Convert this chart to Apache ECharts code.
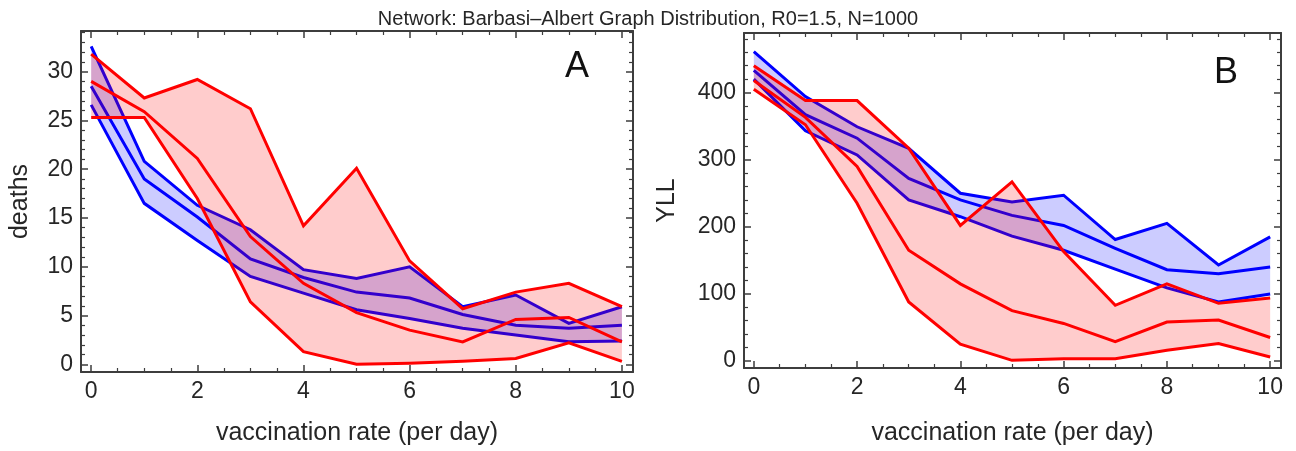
<!DOCTYPE html>
<html>
<head>
<meta charset="utf-8">
<script src="https://cdn.jsdelivr.net/npm/echarts@6/dist/echarts.min.js"></script>
<style>
html,body{margin:0;padding:0;background:#fff;}
#chart{width:1296px;height:451px;}
</style>
</head>
<body>
<div id="chart"></div>
<script>
// ---------- data ----------
const vaccRate = [0, 1, 2, 3, 4, 5, 6, 7, 8, 9, 10];

// Panel A: deaths
const deathsBlueUpper = [32.6, 20.8, 16.3, 13.8, 9.7, 8.8, 10.0, 5.9, 7.1, 4.2, 5.9];
const deathsBlueMid   = [28.5, 19.0, 15.1, 10.8, 8.9, 7.4, 6.8, 5.1, 4.0, 3.7, 4.0];
const deathsBlueLow   = [26.6, 16.5, 12.7, 9.0, 7.3, 5.6, 4.7, 3.7, 3.0, 2.3, 2.4];
const deathsRedUpper  = [31.8, 27.3, 29.2, 26.2, 14.2, 20.1, 10.6, 5.7, 7.4, 8.3, 5.9];
const deathsRedMid    = [29.0, 25.9, 21.1, 13.1, 8.3, 5.3, 3.5, 2.3, 4.6, 4.8, 2.3];
const deathsRedLow    = [25.3, 25.3, 17.0, 6.4, 1.3, 0.0, 0.1, 0.3, 0.6, 2.2, 0.3];

// Panel B: YLL
const yllBlueUpper = [461, 394, 349, 317, 250, 237, 247, 181, 205, 143, 185];
const yllBlueMid   = [433, 367, 332, 272, 240, 217, 202, 168, 136, 130, 140];
const yllBlueLow   = [420, 343, 307, 240, 215, 186, 165, 137, 109, 88, 100];
const yllRedUpper  = [440, 388, 388, 317, 202, 267, 163, 83, 115, 86, 94];
const yllRedMid    = [418, 363, 290, 165, 115, 75, 56, 29, 58, 61, 35];
const yllRedLow    = [405, 352, 235, 88, 25, 1, 3.5, 3.5, 16, 26, 6];

// ticks
const xMajorTicks = [0, 2, 4, 6, 8, 10];
const xMinorTicks = [0.5, 1, 1.5, 2.5, 3, 3.5, 4.5, 5, 5.5, 6.5, 7, 7.5, 8.5, 9, 9.5];
const deathsMajorTicks = [0, 5, 10, 15, 20, 25, 30];
const deathsMinorTicks = [1, 2, 3, 4, 6, 7, 8, 9, 11, 12, 13, 14, 16, 17, 18, 19, 21, 22, 23, 24, 26, 27, 28, 29, 31, 32, 33, 34];
const yllMajorTicks = [0, 100, 200, 300, 400];
const yllMinorTicks = [20, 40, 60, 80, 120, 140, 160, 180, 220, 240, 260, 280, 320, 340, 360, 380, 420, 440, 460, 480];

const titleText = 'Network: Barbasi\u2013Albert Graph Distribution, R0=1.5, N=1000';
const xName = 'vaccination rate (per day)';

// ---------- styling ----------
const FONT = 'Liberation Sans, Arial, sans-serif';
const FRAME = '#3d3d3d';
const TXT = '#262626';
const BLUE = '#0000ff';
const RED = '#ff0000';
const BLUE_FILL = 'rgba(0,0,255,0.2)';
const RED_FILL = 'rgba(255,0,0,0.2)';

const grids = [
  {left: 81, top: 31, width: 552, height: 341},
  {left: 744, top: 33, width: 537, height: 335}
];
const xRange = [[-0.192, 10.209], [-0.19, 10.21]];
const yRange = [[-0.79, 34.17], [-10.4, 488.7]];
const yMajors = [deathsMajorTicks, yllMajorTicks];
const yMinors = [deathsMinorTicks, yllMinorTicks];
const yNames = ['deaths', 'YLL'];
const yNameGaps = [48, 64];
const xNameGaps = [49, 53];

const lineMajor = {show: true, onZero: false, lineStyle: {color: FRAME, width: 2}};
const lineNone = {show: false, onZero: false};

const xAxes = [];
const yAxes = [];
for (let g = 0; g < 2; g++) {
  const base = {type: 'value', gridIndex: g, min: xRange[g][0], max: xRange[g][1], splitLine: {show: false}};
  xAxes.push(Object.assign({}, base, {
    position: 'bottom',
    axisLine: lineMajor,
    axisTick: {show: true, inside: true, length: 7, customValues: xMajorTicks, lineStyle: {color: FRAME, width: 1.5}},
    axisLabel: {show: true, customValues: xMajorTicks, margin: 8, fontSize: 23, fontFamily: FONT, color: TXT},
    name: xName, nameLocation: 'middle', nameGap: xNameGaps[g],
    nameTextStyle: {fontSize: 25, fontFamily: FONT, color: TXT}
  }));
  xAxes.push(Object.assign({}, base, {
    position: 'bottom',
    axisLine: lineNone,
    axisTick: {show: true, inside: true, length: 4, customValues: xMinorTicks, lineStyle: {color: FRAME, width: 1.2}},
    axisLabel: {show: false}
  }));
  xAxes.push(Object.assign({}, base, {
    position: 'top',
    axisLine: lineMajor,
    axisTick: {show: true, inside: true, length: 7, customValues: xMajorTicks, lineStyle: {color: FRAME, width: 1.5}},
    axisLabel: {show: false}
  }));
  xAxes.push(Object.assign({}, base, {
    position: 'top',
    axisLine: lineNone,
    axisTick: {show: true, inside: true, length: 4, customValues: xMinorTicks, lineStyle: {color: FRAME, width: 1.2}},
    axisLabel: {show: false}
  }));

  const ybase = {type: 'value', gridIndex: g, min: yRange[g][0], max: yRange[g][1], splitLine: {show: false}};
  yAxes.push(Object.assign({}, ybase, {
    position: 'left',
    axisLine: lineMajor,
    axisTick: {show: true, inside: true, length: 7, customValues: yMajors[g], lineStyle: {color: FRAME, width: 1.5}},
    axisLabel: {show: true, customValues: yMajors[g], margin: 8, fontSize: 23, fontFamily: FONT, color: TXT},
    name: yNames[g], nameLocation: 'middle', nameGap: yNameGaps[g], nameRotate: 90,
    nameTextStyle: {fontSize: 25, fontFamily: FONT, color: TXT}
  }));
  yAxes.push(Object.assign({}, ybase, {
    position: 'left',
    axisLine: lineNone,
    axisTick: {show: true, inside: true, length: 4, customValues: yMinors[g], lineStyle: {color: FRAME, width: 1.2}},
    axisLabel: {show: false}
  }));
  yAxes.push(Object.assign({}, ybase, {
    position: 'right',
    axisLine: lineMajor,
    axisTick: {show: true, inside: true, length: 7, customValues: yMajors[g], lineStyle: {color: FRAME, width: 1.5}},
    axisLabel: {show: false}
  }));
  yAxes.push(Object.assign({}, ybase, {
    position: 'right',
    axisLine: lineNone,
    axisTick: {show: true, inside: true, length: 4, customValues: yMinors[g], lineStyle: {color: FRAME, width: 1.2}},
    axisLabel: {show: false}
  }));
}

function pairs(ys) { return vaccRate.map((x, i) => [x, ys[i]]); }

// filled band between lower and upper curve, drawn through the axes' scales
function bandSeries(g, lo, hi, fill, z) {
  return {
    type: 'custom', xAxisIndex: g * 4, yAxisIndex: g * 4, z: z, silent: true,
    data: vaccRate.map((x, i) => [x, lo[i], hi[i]]),
    encode: {x: 0, y: [1, 2]},
    renderItem: function (params, api) {
      if (params.dataIndex !== 0) return null;
      const pts = [];
      for (let i = 0; i < vaccRate.length; i++) pts.push(api.coord([vaccRate[i], hi[i]]));
      for (let i = vaccRate.length - 1; i >= 0; i--) pts.push(api.coord([vaccRate[i], lo[i]]));
      return {type: 'polygon', shape: {points: pts}, style: {fill: fill, stroke: null}};
    }
  };
}
function lineSeries(g, ys, color, z) {
  return {type: 'line', xAxisIndex: g * 4, yAxisIndex: g * 4, data: pairs(ys), z: z,
    symbol: 'none', silent: true, lineStyle: {color: color, width: 3, join: 'miter'}, emphasis: {disabled: true}};
}

const panels = [
  {b: [deathsBlueUpper, deathsBlueMid, deathsBlueLow], r: [deathsRedUpper, deathsRedMid, deathsRedLow]},
  {b: [yllBlueUpper, yllBlueMid, yllBlueLow], r: [yllRedUpper, yllRedMid, yllRedLow]}
];
const series = [];
panels.forEach((p, g) => {
  series.push(bandSeries(g, p.b[2], p.b[0], BLUE_FILL, 1));
  p.b.forEach(ys => series.push(lineSeries(g, ys, BLUE, 2)));
  series.push(bandSeries(g, p.r[2], p.r[0], RED_FILL, 3));
  p.r.forEach(ys => series.push(lineSeries(g, ys, RED, 4)));
});

const chart = echarts.init(document.getElementById('chart'), null, {renderer: 'canvas'});
chart.setOption({
  animation: false,
  backgroundColor: '#ffffff',
  title: [
    {text: titleText, left: 'center', top: 4,
     textStyle: {fontSize: 20, fontWeight: 'normal', fontFamily: FONT, color: TXT}},
    {text: 'A', left: 560, top: 44,
     textStyle: {fontSize: 36, fontWeight: 'normal', fontFamily: FONT, color: '#111'}},
    {text: 'B', left: 1209, top: 50,
     textStyle: {fontSize: 36, fontWeight: 'normal', fontFamily: FONT, color: '#111'}}
  ],
  grid: grids,
  xAxis: xAxes,
  yAxis: yAxes,
  series: series
});
</script>
</body>
</html>
